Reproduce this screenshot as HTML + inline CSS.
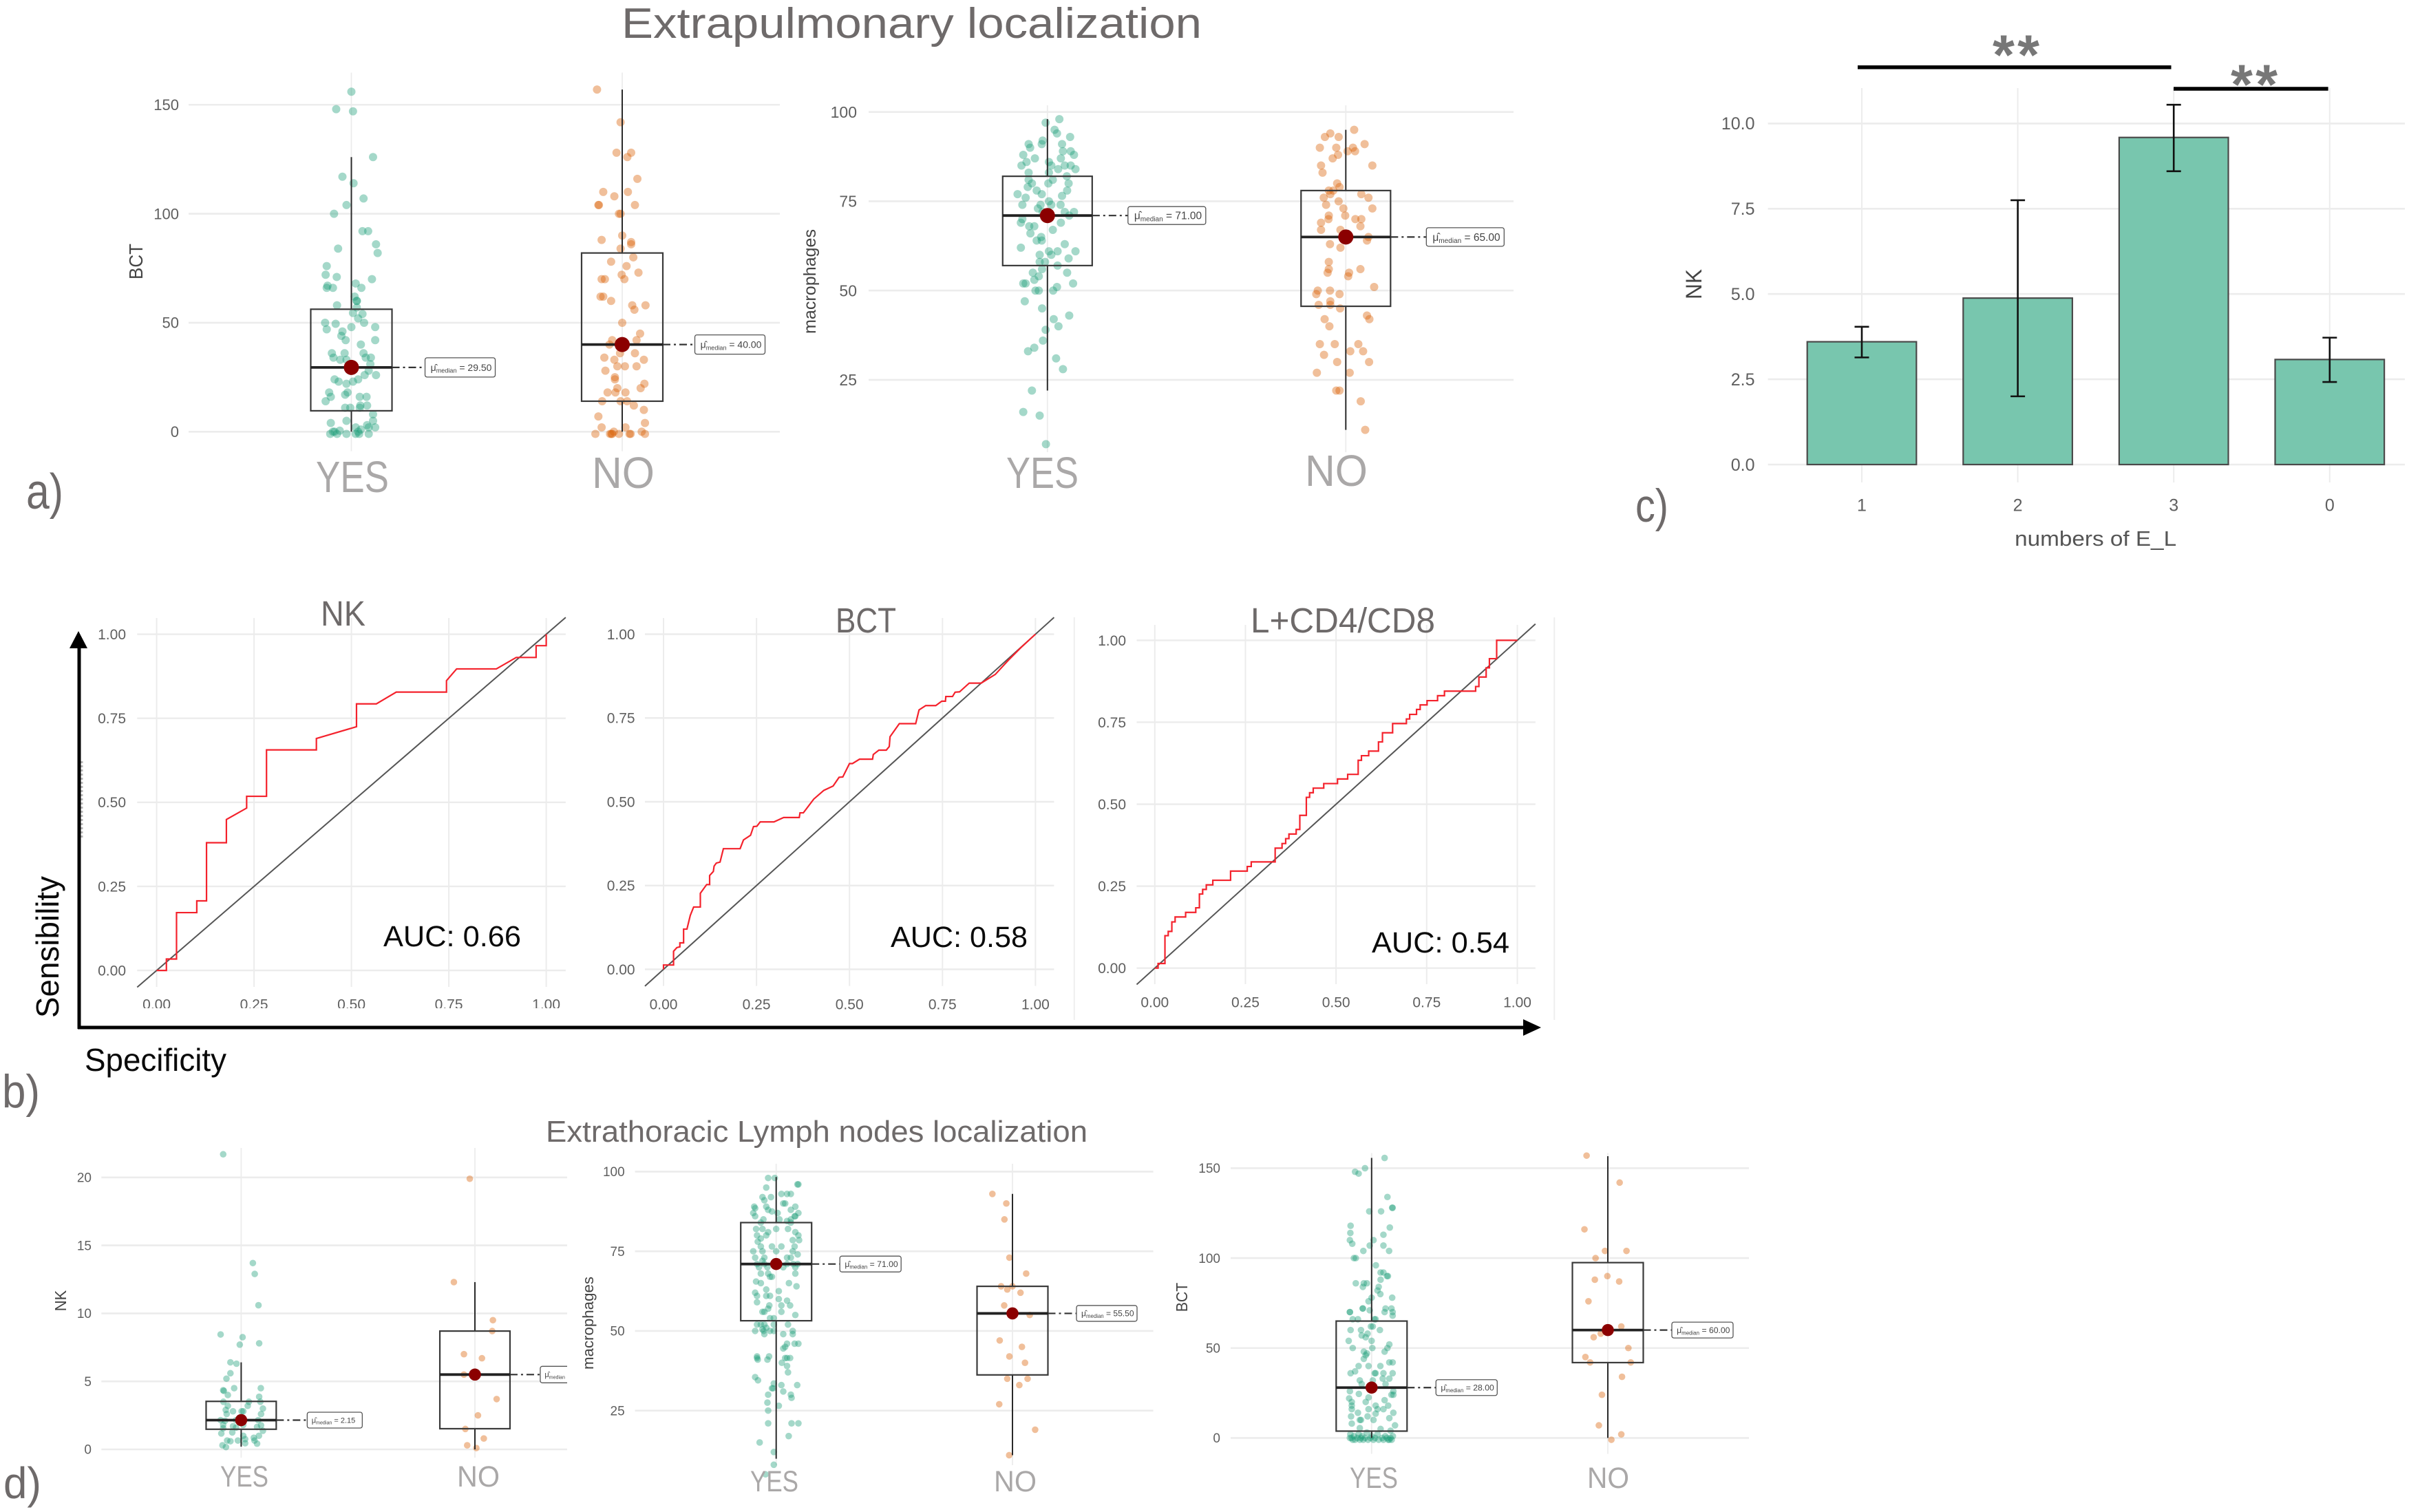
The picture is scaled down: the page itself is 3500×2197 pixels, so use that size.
<!DOCTYPE html>
<html lang="en">
<head>
<meta charset="utf-8">
<title>Extrapulmonary localization figure</title>
<style>
html,body{margin:0;padding:0;background:#fff;}
svg{display:block;font-family:"Liberation Sans",sans-serif;}
.head{fill:#6e6a6a;}
.cat{fill:#aaa8a8;}
.blk{fill:#0a0a0a;}
</style>
</head>
<body>
<svg id="fig" xmlns="http://www.w3.org/2000/svg" width="3500" height="2197" viewBox="0 0 3500 2197">
<rect x="0" y="0" width="3500" height="2197" fill="#fff"/>
<defs><clipPath id="clipNk"><rect x="0" y="1600" width="824" height="597"/></clipPath></defs>
<g id="plots"></g>

<rect x="200" y="1465" width="625" height="8" fill="#fff"/>

<text class="head" x="903" y="55" font-size="62" textLength="843" lengthAdjust="spacingAndGlyphs">Extrapulmonary localization</text>
<text class="head" x="793" y="1659" font-size="44" textLength="787" lengthAdjust="spacingAndGlyphs">Extrathoracic Lymph nodes localization</text>

<text class="head" x="38" y="739" font-size="72" textLength="54" lengthAdjust="spacingAndGlyphs">a)</text>
<text class="head" x="3" y="1609" font-size="68" textLength="55" lengthAdjust="spacingAndGlyphs">b)</text>
<text class="head" x="2376" y="758" font-size="68" textLength="48" lengthAdjust="spacingAndGlyphs">c)</text>
<text class="head" x="5" y="2177" font-size="64" textLength="55" lengthAdjust="spacingAndGlyphs">d)</text>

<text class="cat" x="459" y="715" font-size="64" textLength="106" lengthAdjust="spacingAndGlyphs">YES</text>
<text class="cat" x="860" y="709" font-size="64" textLength="91" lengthAdjust="spacingAndGlyphs">NO</text>
<text class="cat" x="1462" y="709" font-size="64" textLength="105" lengthAdjust="spacingAndGlyphs">YES</text>
<text class="cat" x="1896" y="706" font-size="64" textLength="91" lengthAdjust="spacingAndGlyphs">NO</text>
<text class="cat" x="320" y="2160" font-size="43" textLength="70" lengthAdjust="spacingAndGlyphs">YES</text>
<text class="cat" x="664" y="2160" font-size="43" textLength="62" lengthAdjust="spacingAndGlyphs">NO</text>
<text class="cat" x="1090" y="2167" font-size="43" textLength="70" lengthAdjust="spacingAndGlyphs">YES</text>
<text class="cat" x="1444" y="2167" font-size="43" textLength="62" lengthAdjust="spacingAndGlyphs">NO</text>
<text class="cat" x="1961" y="2162" font-size="43" textLength="70" lengthAdjust="spacingAndGlyphs">YES</text>
<text class="cat" x="2306" y="2162" font-size="43" textLength="61" lengthAdjust="spacingAndGlyphs">NO</text>

<text class="head" x="466" y="909" font-size="51" textLength="65" lengthAdjust="spacingAndGlyphs">NK</text>
<text class="head" x="1214" y="919" font-size="51" textLength="88" lengthAdjust="spacingAndGlyphs">BCT</text>
<text class="head" x="1817" y="919" font-size="51" textLength="268" lengthAdjust="spacingAndGlyphs">L+CD4/CD8</text>

<text class="blk" x="557" y="1375" font-size="43" textLength="200" lengthAdjust="spacingAndGlyphs">AUC: 0.66</text>
<text class="blk" x="1294" y="1376" font-size="43" textLength="199" lengthAdjust="spacingAndGlyphs">AUC: 0.58</text>
<text class="blk" x="1993" y="1384" font-size="43" textLength="200" lengthAdjust="spacingAndGlyphs">AUC: 0.54</text>

<line x1="115" y1="935" x2="115" y2="1495" stroke="#000" stroke-width="5"/>
<polygon points="114,917 127,942 101,942" fill="#000"/>
<line x1="113" y1="1493" x2="2216" y2="1493" stroke="#000" stroke-width="5"/>
<polygon points="2239,1493 2213,1481 2213,1505" fill="#000"/>
<line x1="119" y1="1106" x2="119" y2="1220" stroke="#888" stroke-width="3" stroke-dasharray="3 3" opacity=".6"/>
<text class="blk" transform="translate(85,1479) rotate(-90)" font-size="46" textLength="206" lengthAdjust="spacingAndGlyphs">Sensibility</text>
<text class="blk" x="123" y="1556" font-size="46" textLength="206" lengthAdjust="spacingAndGlyphs">Specificity</text>

<line x1="1560.8" y1="897" x2="1560.8" y2="1482" stroke="#eee" stroke-width="2"/>
<line x1="2258.3" y1="897" x2="2258.3" y2="1482" stroke="#eee" stroke-width="2"/>

<line x1="2699" y1="97.8" x2="3154.5" y2="97.8" stroke="#000" stroke-width="5.5"/>
<line x1="3158" y1="129" x2="3382.6" y2="129" stroke="#000" stroke-width="5.5"/>
<text x="2895" y="108" font-size="82" font-weight="bold" fill="#777" textLength="68">**</text>
<text x="3241" y="151" font-size="82" font-weight="bold" fill="#777" textLength="68">**</text>
</svg>
<script>
/* ---------- shared ticks ---------- */
const bctTicks = [0, 50, 100, 150];
const macTicks = [25, 50, 75, 100];
const nkTicks = [0, 5, 10, 15, 20];
const rocTicks = [0, 0.25, 0.5, 0.75, 1];
const rocDomain = [-0.05, 1.05];

/* ---------- a) extrapulmonary, BCT ---------- */
const pulmBctYesStats = [0, 9.6, 29.5, 56.2, 126];
const pulmBctNoStats = [0, 14, 40, 82, 157];
const pulmBctYesValues = [156,148,147,126,117,114,107,104,100,92,92,86,82,84,76,72,71,70,68,67,66,66,66,62,60,60,58,57,54.5,54,52,50,49.5,50,47,48,48,46,44,42,42,40,36,36,36,34,34,34,33,33,31,24,23,22,23,24,26,28,26,18,16,14,18,17,16,16,11,11,12,12,11,8,5,4,5,2,3,2,2,-1,0,-1,0,0.5,-1,-1,0,1,-1,-1];
const pulmBctYesJitter = [0,-.056,.006,.08,-.033,.008,.045,-.018,-.064,.041,.062,.091,.097,-.049,-.091,-.095,-.054,.076,.016,-.088,-.091,-.068,.037,.012,.02,.02,-.053,.02,.006,.041,.025,-.097,-.058,.047,-.091,0,.088,-.033,-.037,-.021,.088,.035,-.072,-.025,.045,.053,.072,-.066,-.041,-.018,.07,-.062,-.047,-.018,.006,.025,.049,.064,.091,-.082,-.076,-.095,-.014,-.023,.031,.056,-.023,-.004,.033,.058,.031,.08,.08,-.076,-.018,.088,.058,.016,.064,-.078,-.068,-.053,-.062,-.043,-.018,.016,.025,.035,.064,.029];
const pulmBctNoValues = [157,142,128,128,126,116,110,110,108,104,104,104,100,100,90,88,87,86,84,80,78,76,73,72,70,70,70,62,62,60,58,58,56,50,45,42,42,40,36,36,34,33,33,30,30,30,28,25,24,22,20,20,18,18,18,14,14,14,12,10,7,4,2,2,0,-1,-1,-1,0,-1,-1,-1,-1,-1];
const pulmBctNoJitter = [-.093,-.006,-.021,.033,.019,.056,-.07,.021,-.029,-.088,-.086,.047,-.012,-.006,0,-.076,.033,.033,-.006,.041,-.041,.016,.06,-.002,-.076,-.064,.008,-.08,-.07,-.041,.037,.086,.045,0,.066,-.037,.053,-.047,-.008,.047,-.066,-.029,.08,-.018,.01,.053,-.062,-.027,-.027,.082,.068,-.018,-.054,-.025,.012,-.074,-.006,.018,.043,.08,-.088,.084,-.076,.012,.072,-.099,-.045,-.037,-.031,-.012,.027,.031,.084,-.04];

/* ---------- a) extrapulmonary, macrophages ---------- */
const pulmMacYesStats = [22, 57, 71, 82, 98];
const pulmMacNoStats = [11, 45.6, 65, 78, 95];
const pulmMacYesValues = [98,97,95,94,93,92,91,91,91,90,89,89,88,88,87,87,86,86,85,85,85,85,84,84,83,83,82,81,81,80,80,80,79,78,78,77,77,76.5,76,75,74,74,74,74,73,72,72,72,71,70,69,69,68,68,67,66,65,64,64,63,62,61,61,61,60,60,59,58,58,57,56,55,55,54,53,52,52,52,51,50,50,50,47,45,43,42,40,39,36,33,34,31,28,22,16,15,7];
const pulmMacYesJitter = [.04,-.006,.024,.032,.076,-.016,-.063,-.019,.049,-.058,.052,.078,-.081,.089,.045,-.042,-.07,.005,-.087,.013,.058,.078,.036,.094,-.063,.005,.065,-.063,.018,-.052,.003,.071,-.066,-.036,.066,-.019,-.1,.049,-.073,.005,.044,-.084,-.023,.013,-.032,.058,.089,-.016,.073,-.084,-.089,.045,-.061,-.044,.018,-.057,-.021,-.036,-.019,.058,-.089,.005,.034,.094,-.026,.013,.071,-.026,-.008,.034,-.018,.066,-.049,-.029,-.044,-.081,-.073,.086,.032,-.04,-.029,.019,-.076,-.018,.073,.021,.037,-.006,-.015,-.065,-.044,.029,.052,-.052,-.081,-.026,-.005];
const pulmMacNoValues = [95,94,93,93,91,90,90,90,89,89,88,87,85,85,83,80,79,78,78,77,77,76,76,75,74,73,73,71,71,70,70,70,69,68,67,67,65,64,63,62,58,56,55,55,54,56,51,50,50,49,49,47,46,46,45,43,42,42,40,35,35,35,33,33,32,30,30,27,27,22,22,19,11];
const pulmMacNoJitter = [.028,-.052,-.07,-.024,.063,-.087,-.032,.024,.006,.031,-.026,-.044,-.083,.089,-.078,-.029,-.021,-.057,-.042,-.052,.052,-.074,.076,-.024,-.066,-.008,.089,-.057,-.002,-.058,.032,.052,-.083,.049,-.083,-.018,.076,.071,-.053,-.018,-.057,-.057,-.061,.011,.008,.049,.095,-.094,-.053,-.099,-.021,-.052,-.091,-.052,-.019,.071,.079,-.071,-.055,-.087,-.037,.042,.015,.058,-.073,-.029,.078,-.097,.013,-.032,-.021,.05,.065];

/* ---------- c) bar chart ---------- */
const barCats = ["1", "2", "3", "0"];
const barValues = [3.6, 4.88, 9.59, 3.08];
const barErrLow = [3.14, 2.0, 8.6, 2.42];
const barErrHigh = [4.04, 7.75, 10.55, 3.72];
const barTicks = [0, 2.5, 5, 7.5, 10];

/* ---------- b) ROC curves ---------- */
const rocNkSpec = [0,.025,.025,.051,.051,.103,.103,.128,.128,.179,.179,.231,.231,.282,.282,.41,.41,.513,.513,.564,.615,.744,.744,.77,.872,.923,.974,.974,1,1];
const rocNkSens = [0,0,.034,.034,.172,.172,.207,.207,.38,.38,.449,.483,.518,.518,.656,.656,.69,.725,.793,.793,.828,.828,.862,.897,.897,.931,.931,.966,.966,1];
const rocBctSpec = [0,0,.027,.027,.036,.044,.044,.054,.054,.063,.072,.081,.099,.099,.116,.124,.124,.134,.136,.142,.152,.161,.206,.215,.234,.242,.251,.26,.297,.323,.365,.367,.376,.404,.431,.456,.472,.482,.5,.508,.527,.562,.564,.579,.599,.607,.609,.634,.678,.687,.705,.732,.748,.758,.759,.777,.784,.796,.822,.854,.892,.926,.96,1];
const rocBctSens = [0,.013,.013,.054,.065,.067,.079,.079,.12,.12,.161,.186,.186,.227,.253,.253,.28,.292,.308,.317,.32,.36,.36,.386,.4,.426,.427,.44,.44,.453,.453,.467,.467,.508,.534,.547,.573,.574,.614,.614,.627,.627,.641,.654,.654,.665,.694,.733,.733,.774,.787,.787,.8,.8,.814,.814,.827,.828,.854,.854,.88,.921,.959,1];
const rocCd4Spec = [.009,.028,.037,.047,.056,.085,.113,.123,.132,.142,.16,.209,.255,.266,.332,.351,.361,.37,.39,.4,.418,.427,.437,.466,.504,.532,.561,.57,.59,.617,.628,.656,.694,.703,.722,.732,.751,.78,.799,.885,.894,.914,.923,.943,1];
const rocCd4Sens = [.014,.099,.112,.141,.156,.17,.184,.226,.24,.254,.268,.296,.31,.324,.366,.38,.395,.409,.423,.466,.521,.535,.549,.563,.577,.591,.634,.648,.662,.69,.718,.746,.76,.774,.789,.803,.816,.831,.845,.859,.888,.916,.944,1,1];

/* ---------- d) lymph nodes, NK ---------- */
const nodeNkYesStats = [0.2, 1.48, 2.15, 3.53, 6.4];
const nodeNkNoStats = [0, 1.52, 5.5, 8.7, 12.3];
const nodeNkYesValues = [21.7,13.7,12.9,10.6,8.45,8.25,7.7,7.8,6.4,6.3,5.6,5.2,4.5,4.5,4.35,4.3,4,3.87,3.5,3.5,3.5,3.2,3.2,3,2.9,2.8,2.8,2.8,2.6,2.6,2.1,2.15,2.15,2.15,1.8,1.7,1.8,1.65,1.77,1.55,1.6,1.37,1.25,1.17,1,.85,1,.65,.6,.65,.75,.65,.45,.42,.3,.17];
const nodeNkYesJitter = [-.077,.05,.058,.074,-.088,.006,-.006,.077,-.046,-.02,-.046,-.063,.084,-.03,-.077,-.074,-.057,.077,-.076,.033,.082,.028,-.057,.093,-.066,-.035,.009,.002,.085,-.062,-.069,-.088,-.022,.073,-.077,-.035,.009,.068,.085,-.077,-.022,.093,-.038,-.085,.009,.054,.076,-.06,-.046,-.014,.017,.057,.017,.068,-.08,-.065];
const nodeNkNoValues = [19.9,12.3,9.5,8.7,7,6.7,5.5,3.7,2.5,1.5,.8,.3,.1];
const nodeNkNoJitter = [-.022,-.09,.077,.074,-.047,.03,-.047,.093,.013,-.041,.038,-.033,.006];

/* ---------- d) lymph nodes, macrophages ---------- */
const nodeMacYesStats = [9.9, 53.2, 71, 84, 98.3];
const nodeMacNoStats = [11, 36.2, 55.5, 64, 93];
const nodeMacYesValues = [98,98,96,96,95,93,93,93,92,92,91,90,90,89,89,89,88.5,88,88,87.5,87,87,87,86,86,86,85,85,85,84.5,84,84,82,82,82,82,81,81,80,80,80,79,78.5,78.5,78,76.5,76.5,76.5,76.5,75,75,75,75,74,73,73,73,73,72,71,71,71,71,71,70,70,70,70,68,68,67,67,68,65.5,65,65,64,63,62.5,62,61,61,61,59.5,60,59,58,58,58,57,56,56,56,55,54,54,52,52,52,52,52,51,50,50,50,50,50,50.5,49,49,49,46,46,46,45,44.5,42,42,41.5,41.5,41.5,41.5,41,41,40,39,37,35.5,34.5,33.5,33,33,32,32,31,30,30,29,27.5,26.5,25,21,21,21,17,15,12,8,5];
const nodeMacYesJitter = [-.034,-.006,.094,.09,-.042,.062,.046,.022,-.058,-.022,-.05,.038,.03,.081,-.093,-.042,-.089,.062,-.034,-.018,.006,.094,-.097,.081,.078,-.089,.062,-.054,.014,.046,.062,-.065,0,.05,-.085,-.058,-.034,.081,-.081,-.042,.094,-.065,.07,.097,-.078,-.065,-.018,.022,.078,-.097,-.058,0,.07,.091,-.089,-.05,.062,.046,-.058,-.081,.046,.091,.072,-.05,-.073,-.037,.03,.081,-.065,-.034,-.018,-.026,.081,-.085,-.065,.054,.086,-.042,.011,-.089,-.081,-.042,-.026,.046,.011,-.081,.022,.059,-.029,-.034,-.05,.022,-.058,.081,-.026,-.01,-.05,-.081,-.065,-.01,.05,-.042,-.089,-.053,-.026,.07,-.01,-.058,.03,.07,-.05,.046,.078,.094,.038,.03,-.081,-.03,-.081,.038,.059,.046,-.078,-.037,.024,.046,.05,-.089,-.077,-.01,.022,.089,-.018,-.013,.03,-.034,.062,.065,-.037,.011,-.034,-.034,.065,.094,.053,-.07,-.01,-.01,-.045];
const nodeMacNoValues = [93,90,85,73,68,64,63,64,62,58,55,47,45,42,40,35,35,33,27,19,11];
const nodeMacNoJitter = [-.085,-.026,-.034,-.013,.058,-.048,-.022,0,.034,-.035,.073,-.054,.04,-.013,.053,-.022,.064,.029,-.056,.096,-.014];

/* ---------- d) lymph nodes, BCT ---------- */
const nodeBctYesStats = [0, 3.8, 28, 65, 155.7];
const nodeBctNoStats = [0, 41.9, 60, 97.5, 156.7];
const nodeBctYesValues = [155.7,150,148,147,134,128,128,126,126,118,117,114,113,110,110,108,107,107,104,104,100,100,96,92,92,90,90,88,86,86,86,84,84,82,80,78,78,76,72,72,71,72,72,70,70,70,70,68,66,66,66,66,62,62,60,60,60,57,58,56,54,54,52,50,50,50,48,48,47,46,44,42,42,40,40,40,36,37,36,36,36,36,33,32,32,33,30,30,26,26,24.5,24,24,22,22.5,20,20,21,18,18,18,16,16,16,16,14,14,13.5,12,12,11,10,10,10,8,7,5.5,5,4,2,0,-1,1,-1,0,2,-1,0,1,-1,0,3,-1,0,1,-1,0,2,-1,0,-1,1,0,-1,0,-1,1,0,-1];
const nodeBctYesJitter = [.055,-.028,-.07,-.055,.067,.087,.089,-.01,.04,-.089,.077,-.09,.05,-.092,.008,-.082,-.008,.05,-.035,.074,-.075,-.067,.018,.038,.05,.065,.069,.038,-.067,-.033,-.02,-.037,.03,.025,.037,.087,0,-.013,-.037,-.038,-.008,.059,.084,-.092,-.092,.055,.089,.089,-.08,-.058,.012,.017,-.003,.005,-.089,-.045,.035,-.042,-.017,-.025,-.097,0,.075,.067,-.08,.003,.055,-.033,-.02,-.025,-.033,.075,.089,-.055,-.013,.037,-.089,-.07,.013,.017,.05,.089,.075,-.05,.005,.047,-.042,.059,-.092,.092,-.054,.084,.092,-.095,-.013,-.084,-.025,.055,-.084,.017,.07,-.084,-.013,.025,.05,-.058,.092,.017,-.087,-.017,.075,-.05,-.045,.008,-.084,.099,-.05,.038,.08,-.09,-.085,-.08,-.075,-.07,-.06,-.055,-.05,-.045,-.04,-.035,-.028,-.02,-.015,-.005,0,.008,.015,.025,.03,.045,.05,.058,.065,.07,.08,.085,.09,-.092,.075];
const nodeBctNoValues = [157,142,116,104,104,100,90,88,87,76,62,58,56,50,45,42,42,34,24,7,2,-1];
const nodeBctNoJitter = [-.09,.05,-.099,-.012,.079,-.052,-.002,-.055,.048,-.082,.057,-.03,-.06,.087,-.095,-.075,.097,.06,-.025,-.038,.057,.015];

/* ---------- helpers ---------- */
const NS = 'http://www.w3.org/2000/svg';
const plots = document.getElementById('plots');
function add(parent, tag, attrs, text) {
  const el = document.createElementNS(NS, tag);
  for (const k in attrs) el.setAttribute(k, attrs[k]);
  if (text !== undefined) el.textContent = text;
  parent.appendChild(el);
  return el;
}
const GRID = '#ececec';
const TICK = '#5f5f5f';

function hGrid(g, x1, x2, y, w) {
  const el = add(g, 'line', {x1: x1, x2: x2, y1: y, y2: y, stroke: GRID, 'stroke-width': w});
  
  
}
function vGrid(g, x, y1, y2, w) {
  const el = add(g, 'line', {x1: x, x2: x, y1: y1, y2: y2, stroke: GRID, 'stroke-width': w});
  
  
}
function tickText(g, x, y, label, size, anchor) {
  const el = add(g, 'text', {x: x, y: y, 'font-size': size, fill: TICK, 'text-anchor': anchor, dy: '.35em'}, label);
  
  
}
function axisTitle(g, x, y, label, size, len) {
  const el = add(g, 'text', {
    transform: 'translate(' + x + ',' + y + ') rotate(-90)', 'font-size': size, fill: '#444',
    'text-anchor': 'middle', textLength: len, lengthAdjust: 'spacingAndGlyphs'
  }, label);
  
  
}

function drawGroup(g, p, cx, values, jitter, stats, color, lab) {
  const xOf = function (j) { return cx + j * p.dx; };
  const yOf = function (v) { return p.y0 - v * p.k; };
  const half = 0.15 * p.dx;
  values.forEach(function (v, i) {
    const c = add(g, 'circle', {cx: xOf(jitter[i] || 0), cy: yOf(v), r: p.r, fill: color, 'fill-opacity': 0.4});
    
    
  });
  const lo = stats[0], q1 = stats[1], med = stats[2], q3 = stats[3], hi = stats[4];
  const wu = add(g, 'line', {x1: cx, x2: cx, y1: yOf(q3), y2: yOf(hi), stroke: '#2a2a2a', 'stroke-width': 2});
  
  
  const wl = add(g, 'line', {x1: cx, x2: cx, y1: yOf(q1), y2: yOf(lo), stroke: '#2a2a2a', 'stroke-width': 2});
  
  
  const box = add(g, 'rect', {x: cx - half, y: yOf(q3), width: 2 * half, height: yOf(q1) - yOf(q3), fill: 'none', stroke: '#3a3a3a', 'stroke-width': 2.2});
  
  
  const ml = add(g, 'line', {x1: cx - half, x2: cx + half, y1: yOf(med), y2: yOf(med), stroke: '#222', 'stroke-width': 3.8});
  
  
  const lg = add(g, 'g', lab.clip ? {'clip-path': 'url(#' + lab.clip + ')'} : {});
  
  
  const lx = cx + half + lab.gap;
  const my = yOf(med);
  const dash = add(lg, 'line', {x1: cx + half, x2: lx, y1: my, y2: my, stroke: '#333', 'stroke-width': 2.2, 'stroke-dasharray': '11 5 3 5'});
  
  
  const rc = add(lg, 'rect', {x: lx, y: my - lab.h / 2, width: lab.w, height: lab.h, rx: 3, fill: '#fff', stroke: '#555', 'stroke-width': 1.3});
  
  
  const fs = lab.w * 0.137;
  const tx = add(lg, 'text', {x: lx + lab.w * 0.08, y: my + fs * 0.35, 'font-size': fs, fill: '#444'});
  
  
  add(tx, 'tspan', {}, 'μ\u0302');
  add(tx, 'tspan', {'font-size': fs * 0.65, dy: fs * 0.2}, 'median');
  add(tx, 'tspan', {dy: -fs * 0.2}, ' = ' + med.toFixed(2));
  const red = add(g, 'circle', {cx: cx, cy: my, r: p.rm, fill: '#8b0000'});
  
  
}

function boxPanel(p) {
  const g = add(plots, 'g', {});
  
  
  p.ticks.forEach(function (t) {
    const y = p.y0 - t * p.k;
    hGrid(g, p.gx1, p.gx2, y, 2.6);
    tickText(g, p.tx, y, String(t), p.ts, 'end');
  });
  vGrid(g, p.xYes, p.vy1, p.vy2, 1.8);
  vGrid(g, p.xYes + p.dx, p.vy1, p.vy2, 1.8);
  axisTitle(g, p.tlx, p.tly, p.title, p.tls, p.tll);
  drawGroup(g, p, p.xYes, p.yesV, p.yesJ, p.yesS, '#1b9e77', p.yesL);
  drawGroup(g, p, p.xYes + p.dx, p.noV, p.noJ, p.noS, '#d95f02', p.noL);
}

function rocPanel(p) {
  const g = add(plots, 'g', {});
  
  
  const xOf = function (v) { return p.x0 + v * p.xk; };
  const yOf = function (v) { return p.y0 - v * p.yk; };
  rocTicks.forEach(function (t) {
    hGrid(g, xOf(rocDomain[0]), xOf(rocDomain[1]), yOf(t), 2.4);
    vGrid(g, xOf(t), p.vy1, p.vy2, 2);
    tickText(g, p.ytx, yOf(t), t.toFixed(2), 21, 'end');
    tickText(g, xOf(t), p.xty, t.toFixed(2), 21, 'middle');
  });
  const diag = add(g, 'line', {x1: xOf(rocDomain[0]), y1: yOf(rocDomain[0]), x2: xOf(rocDomain[1]), y2: yOf(rocDomain[1]), stroke: '#555', 'stroke-width': 2});
  
  
  let d = 'M' + xOf(0) + ' ' + yOf(0);
  p.spec.forEach(function (s, i) {
    if (p.step) d += 'H' + xOf(s) + 'V' + yOf(p.sens[i]);
    else d += 'L' + xOf(s) + ' ' + yOf(p.sens[i]);
  });
  const curve = add(g, 'path', {d: d, fill: 'none', stroke: '#f4222c', 'stroke-width': 2.2});
  
  
}

function barPanel() {
  const g = add(plots, 'g', {});
  
  
  const y0 = 675, k = 49.56, x0 = 2705, dx = 226.6;
  const yOf = function (v) { return y0 - v * k; };
  const xOf = function (i) { return x0 + i * dx; };
  barTicks.forEach(function (t) {
    hGrid(g, 2568.6, 3494, yOf(t), 2.6);
    tickText(g, 2549.5, yOf(t), t.toFixed(1), 25, 'end');
  });
  barCats.forEach(function (c, i) {
    vGrid(g, xOf(i), 128, 701, 2);
    tickText(g, xOf(i), 733.7, c, 25, 'middle');
  });
  barValues.forEach(function (v, i) {
    const r = add(g, 'rect', {x: xOf(i) - 0.35 * dx, y: yOf(v), width: 0.7 * dx, height: v * k, fill: '#78c6ae', stroke: '#4a4a4a', 'stroke-width': 2.2});
    
    
  });
  barValues.forEach(function (v, i) {
    const x = xOf(i);
    const e = add(g, 'path', {
      d: 'M' + (x - 10.5) + ' ' + yOf(barErrHigh[i]) + 'H' + (x + 10.5) +
         'M' + x + ' ' + yOf(barErrHigh[i]) + 'V' + yOf(barErrLow[i]) +
         'M' + (x - 10.5) + ' ' + yOf(barErrLow[i]) + 'H' + (x + 10.5),
      fill: 'none', stroke: '#111', 'stroke-width': 2.6
    });
    
    
  });
  axisTitle(g, 2472, 413, 'NK', 32, 44);
  const xt = add(g, 'text', {x: 3044.6, y: 793, 'font-size': 31, fill: '#555', 'text-anchor': 'middle', textLength: 235, lengthAdjust: 'spacingAndGlyphs'}, 'numbers of E_L');
  
  
}

/* ---------- render ---------- */
boxPanel({name: 'extrapulmonary-bct-plot', ticks: bctTicks, y0: 627.3, k: 3.167, xYes: 510.5, dx: 393.5, r: 6, rm: 11,
  gx1: 274, gx2: 1133, vy1: 105.5, vy2: 655.6, tx: 260, ts: 22,
  title: 'BCT', tlx: 207, tly: 380, tls: 28, tll: 52,
  yesV: pulmBctYesValues, yesJ: pulmBctYesJitter, yesS: pulmBctYesStats, noV: pulmBctNoValues, noJ: pulmBctNoJitter, noS: pulmBctNoStats,
  yesL: {gap: 48, w: 102, h: 28}, noL: {gap: 46.5, w: 102, h: 28}});

boxPanel({name: 'extrapulmonary-macrophages-plot', ticks: macTicks, y0: 681.7, k: 5.19, xYes: 1521.8, dx: 433.5, r: 6, rm: 11,
  gx1: 1262, gx2: 2199, vy1: 153, vy2: 657, tx: 1245, ts: 23,
  title: 'macrophages', tlx: 1185, tly: 409, tls: 25, tll: 152,
  yesV: pulmMacYesValues, yesJ: pulmMacYesJitter, yesS: pulmMacYesStats, noV: pulmMacNoValues, noJ: pulmMacNoJitter, noS: pulmMacNoStats,
  yesL: {gap: 52, w: 113, h: 26}, noL: {gap: 52, w: 113, h: 27}});

barPanel();

rocPanel({name: 'roc-nk-plot', x0: 227.6, xk: 566, y0: 1410.1, yk: 488.5, vy1: 898, vy2: 1434, ytx: 183, xty: 1459, spec: rocNkSpec, sens: rocNkSens, step: false});
rocPanel({name: 'roc-bct-plot', x0: 964, xk: 540.4, y0: 1408.5, yk: 487, vy1: 898, vy2: 1432.6, ytx: 922.6, xty: 1459, spec: rocBctSpec, sens: rocBctSens, step: false});
rocPanel({name: 'roc-cd4-plot', x0: 1677.8, xk: 526.7, y0: 1406.7, yk: 476.3, vy1: 908, vy2: 1430, ytx: 1636, xty: 1456, spec: rocCd4Spec, sens: rocCd4Sens, step: true});

boxPanel({name: 'lymph-nodes-nk-plot', ticks: nkTicks, y0: 2106, k: 19.76, xYes: 350.4, dx: 339.6, r: 4.8, rm: 8.8,
  gx1: 147.3, gx2: 824, vy1: 1668, vy2: 2118, tx: 133, ts: 19,
  title: 'NK', tlx: 96, tly: 1890, tls: 23, tll: 30.5,
  yesV: nodeNkYesValues, yesJ: nodeNkYesJitter, yesS: nodeNkYesStats, noV: nodeNkNoValues, noJ: nodeNkNoJitter, noS: nodeNkNoStats,
  yesL: {gap: 45, w: 80, h: 23}, noL: {gap: 44, w: 80, h: 24, clip: 'clipNk'}});

boxPanel({name: 'lymph-nodes-macrophages-plot', ticks: macTicks, y0: 2165.4, k: 4.63, xYes: 1127.7, dx: 343.3, r: 4.8, rm: 8.8,
  gx1: 922.6, gx2: 1675.6, vy1: 1691, vy2: 2129, tx: 907.7, ts: 19,
  title: 'macrophages', tlx: 862, tly: 1922.5, tls: 22, tll: 135,
  yesV: nodeMacYesValues, yesJ: nodeMacYesJitter, yesS: nodeMacYesStats, noV: nodeMacNoValues, noJ: nodeMacNoJitter, noS: nodeMacNoStats,
  yesL: {gap: 41, w: 89, h: 23}, noL: {gap: 41.5, w: 88, h: 23}});

boxPanel({name: 'lymph-nodes-bct-plot', ticks: bctTicks, y0: 2089.4, k: 2.613, xYes: 1992.8, dx: 343.2, r: 4.8, rm: 8.8,
  gx1: 1788, gx2: 2541, vy1: 1675.5, vy2: 2112.5, tx: 1773, ts: 19,
  title: 'BCT', tlx: 1725, tly: 1885, tls: 23, tll: 42.6,
  yesV: nodeBctYesValues, yesJ: nodeBctYesJitter, yesS: nodeBctYesStats, noV: nodeBctNoValues, noJ: nodeBctNoJitter, noS: nodeBctNoStats,
  yesL: {gap: 42, w: 89, h: 23}, noL: {gap: 41.5, w: 89, h: 23}});
</script>
</body>
</html>
